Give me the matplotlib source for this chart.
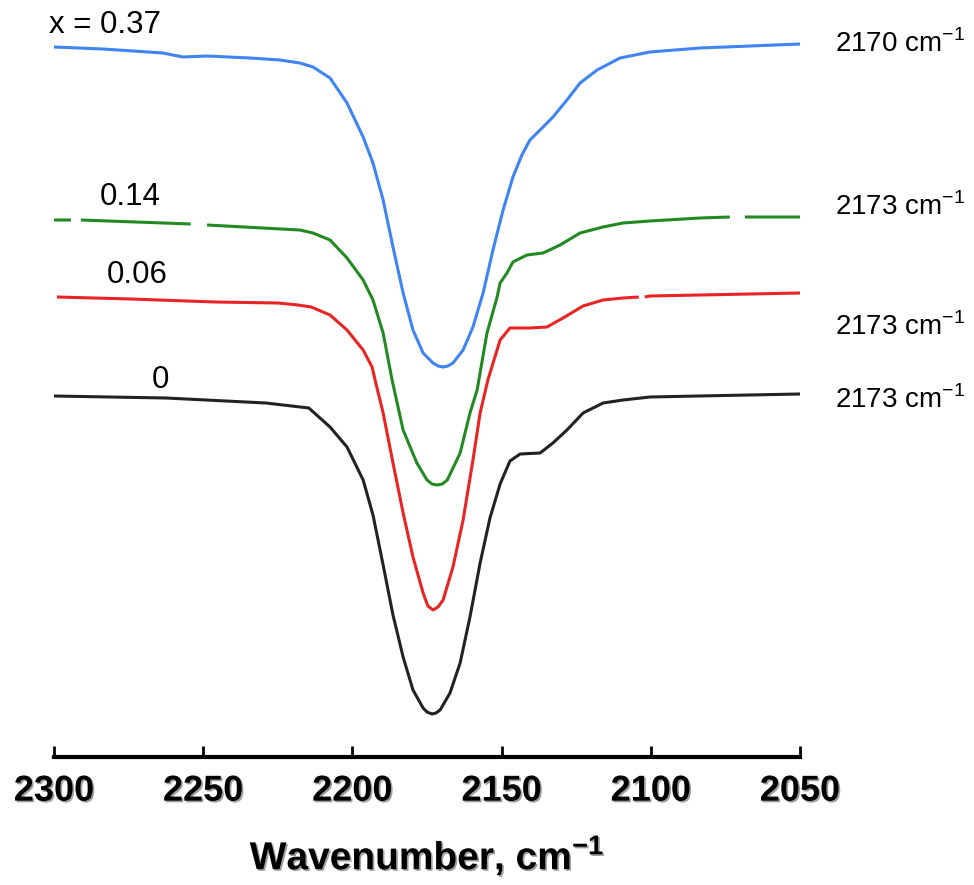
import numpy as np
import matplotlib
matplotlib.use("Agg")
import matplotlib.pyplot as plt
import matplotlib.patheffects as pe

plt.rcParams['font.family'] = ['Liberation Sans', 'DejaVu Sans']
plt.rcParams['mathtext.fontset'] = 'custom'
plt.rcParams['mathtext.rm'] = 'Liberation Sans'
plt.rcParams['mathtext.bf'] = 'Liberation Sans:bold'

nan = np.nan

# ---- data (wavenumber, cm-1 ; offset absorbance, a.u.) ----
wn_037 = [2300, 2283.6, 2263.5, 2256.8, 2248.7, 2234.3, 2224.3, 2217.6, 2213.2, 2207.5,
          2201.8, 2196.4, 2193.1, 2189.7, 2186.4, 2183.0, 2179.7, 2176.3, 2173.0, 2171.3,
          2169.6, 2168.0, 2166.3, 2162.9, 2159.6, 2156.2, 2152.9, 2149.5, 2146.2, 2143.2,
          2140.5, 2137.1, 2132.8, 2128.1, 2123.7, 2118.0, 2110.3, 2100.3, 2083.5, 2066.7,
          2050]
y_037 = [7.10, 7.08, 7.04, 7.00, 7.01, 6.99, 6.97, 6.94, 6.90, 6.79,
         6.54, 6.20, 5.94, 5.57, 5.10, 4.64, 4.27, 4.04, 3.94, 3.91,
         3.90, 3.91, 3.94, 4.07, 4.30, 4.64, 5.07, 5.47, 5.80, 6.02,
         6.17, 6.27, 6.40, 6.57, 6.74, 6.87, 6.99, 7.05, 7.09, 7.11,
         7.13]

wn_014 = [2300, 2294.3, 2293, 2291, 2254.2, 2252, 2248.7, 2217.6, 2213.2, 2207.5,
          2201.8, 2196.4, 2193.1, 2189.7, 2186.7, 2183.0, 2178.4, 2175.0, 2173.3, 2171.6,
          2169.9, 2168.2, 2163.9, 2160.6, 2158.2, 2154.9, 2151.5, 2150.5, 2148.2, 2146.2,
          2141.5, 2136.1, 2130.4, 2123.7, 2116.0, 2109.3, 2100.3, 2083.5, 2073.5, 2071,
          2068.5, 2050]
y_014 = [5.37, 5.37, nan, 5.37, 5.33, nan, 5.32, 5.27, 5.24, 5.17,
         4.99, 4.77, 4.57, 4.24, 3.77, 3.27, 2.94, 2.77, 2.73, 2.72,
         2.73, 2.77, 3.04, 3.44, 3.67, 4.24, 4.60, 4.74, 4.84, 4.95,
         5.02, 5.04, 5.12, 5.24, 5.30, 5.34, 5.36, 5.39, 5.40, nan,
         5.40, 5.40]

wn_006 = [2299, 2274.2, 2246.0, 2224.9, 2218.2, 2213.8, 2207.5, 2201.8, 2196.4, 2193.4,
          2192.4, 2189.7, 2186.4, 2183.0, 2179.7, 2176.3, 2174.7, 2173.0, 2171.3, 2169.6,
          2166.3, 2162.9, 2159.6, 2157.2, 2154.6, 2150.5, 2147.2, 2140.5, 2134.8, 2129.4,
          2122.7, 2116.0, 2109.3, 2104.0, 2103.0, 2102.0, 2100.3, 2083.5, 2050]
y_006 = [4.60, 4.58, 4.55, 4.54, 4.52, 4.50, 4.42, 4.27, 4.07, 3.90,
         3.77, 3.44, 2.94, 2.44, 2.00, 1.64, 1.51, 1.47, 1.50, 1.57,
         1.90, 2.37, 2.97, 3.44, 3.77, 4.17, 4.29, 4.29, 4.30, 4.39,
         4.51, 4.57, 4.59, 4.60, nan, 4.60, 4.61, 4.62, 4.64]

wn_000 = [2300, 2262.5, 2229.0, 2214.6, 2207.5, 2201.8, 2196.4, 2193.1, 2189.7, 2186.4,
          2183.0, 2179.7, 2176.3, 2175.0, 2173.3, 2172.0, 2170.6, 2167.3, 2163.9, 2160.6,
          2157.2, 2153.9, 2150.5, 2147.2, 2143.8, 2137.1, 2132.8, 2128.1, 2122.7, 2116.0,
          2109.3, 2100.3, 2084.0, 2050]
y_000 = [3.61, 3.59, 3.54, 3.49, 3.30, 3.10, 2.77, 2.42, 1.92, 1.42,
         1.00, 0.67, 0.49, 0.45, 0.43, 0.44, 0.47, 0.64, 0.94, 1.40,
         1.94, 2.39, 2.73, 2.96, 3.03, 3.04, 3.14, 3.27, 3.44, 3.54,
         3.57, 3.60, 3.61, 3.63]

series_labels = ["x = 0.37", "0.14", "0.06", "0"]
peak_labels = ["2170 cm$^{-1}$", "2173 cm$^{-1}$", "2173 cm$^{-1}$", "2173 cm$^{-1}$"]
xticks = [2300, 2250, 2200, 2150, 2100, 2050]

# ---- figure ----
fig = plt.figure(figsize=(9.74, 8.85), dpi=100)
ax = fig.add_axes([54/974, 1 - 757/885, 746/974, 757/885])

colors = ["#3f84f2", "#238a23", "#e82424", "#222222"]
xs = [wn_037, wn_014, wn_006, wn_000]
ys = [y_037, y_014, y_006, y_000]
for x, y, c in zip(xs, ys, colors):
    ax.plot(x, y, color=c, lw=2.2, solid_capstyle='butt', solid_joinstyle='round')

ax.set_xlim(2300, 2050)
ax.set_ylim(0, 7.57)
ax.set_yticks([])
for s in ['left', 'right', 'top']:
    ax.spines[s].set_visible(False)
ax.spines['bottom'].set_linewidth(3.0)
ax.set_xticks(xticks)
ax.tick_params(axis='x', direction='in', length=8, width=2.0, pad=12)
shadow = [pe.withSimplePatchShadow(offset=(1.2, -1.2), shadow_rgbFace='#777777', alpha=0.7)]
for lab in ax.get_xticklabels():
    lab.set_fontsize(26)
    lab.set_fontweight('bold')
    lab.set_path_effects(shadow)

ax.set_xlabel(r"Wavenumber, cm$^{\mathbf{-1}}$", fontsize=28, fontweight='bold', labelpad=18)
ax.xaxis.label.set_path_effects(shadow)

# left labels (x positions in wavenumber, y baseline)
left_pos = [(2301.7, 7.24), (2284.6, 5.52), (2282.2, 4.74), (2267.2, 3.69)]
for (lx, ly), t in zip(left_pos, series_labels):
    ax.text(lx, ly, t, fontsize=22.5, ha='left', va='baseline', clip_on=False)

right_pos = [7.05, 5.42, 4.22, 3.49]
for ry, t in zip(right_pos, peak_labels):
    ax.text(2038.3, ry, t, fontsize=20, ha='left', va='baseline', clip_on=False)

fig.savefig("out.png", dpi=100)
